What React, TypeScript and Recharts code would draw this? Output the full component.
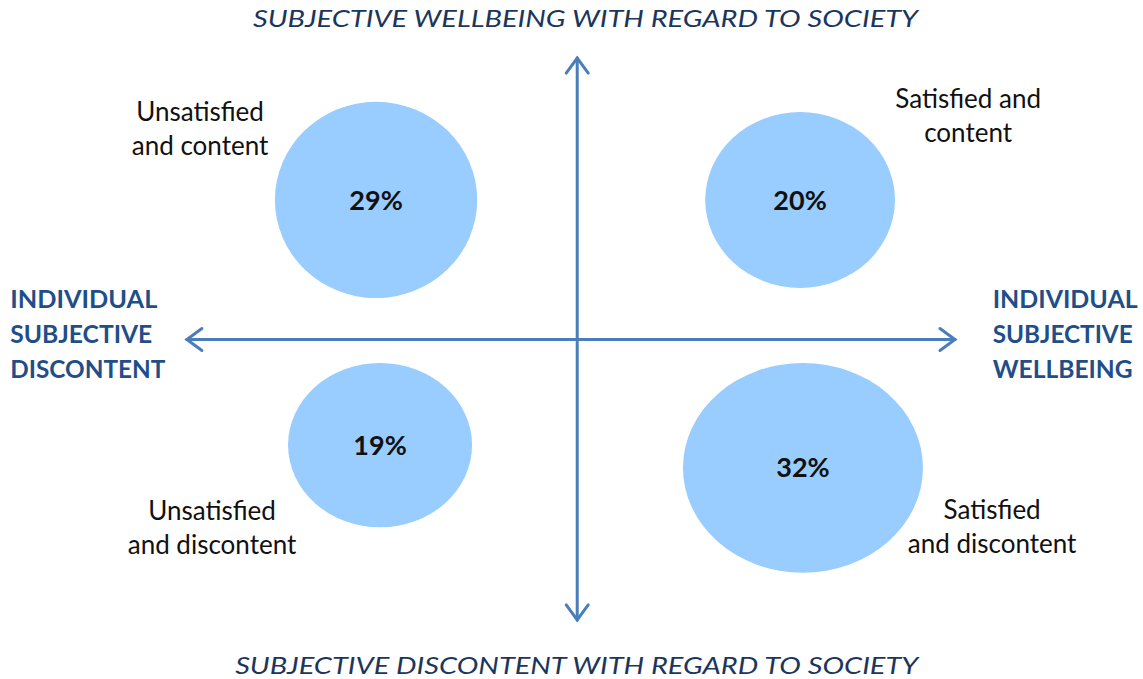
import {
  ScatterChart,
  Scatter,
  XAxis,
  YAxis,
  ReferenceArea,
  ReferenceLine,
} from "recharts";

// quadrant bubbles (diagram units: x -10..10, y -10..10, axes cross at 0,0)
const quadrants = [
  "Unsatisfied and content",
  "Satisfied and content",
  "Unsatisfied and discontent",
  "Satisfied and discontent",
];
const shares = [29, 20, 19, 32];
const bubbleX = [-3.52, 3.9, -3.45, 3.95];
const bubbleY = [4.11, 4.11, -3.11, -3.78];
const bubbleRx = [1.77, 1.66, 1.61, 2.1];
const bubbleRy = [2.89, 2.59, 2.42, 3.09];

// quadrant captions
const captionLines = [
  ["Unsatisfied", "and content"],
  ["Satisfied and", "content"],
  ["Unsatisfied", "and discontent"],
  ["Satisfied", "and discontent"],
];
const captionX = [-6.6, 6.84, -6.39, 7.26];
const captionY = [6.23, 6.6, -5.51, -5.49];

// axis titles
const verticalTitles = [
  "SUBJECTIVE WELLBEING WITH REGARD TO SOCIETY",
  "SUBJECTIVE DISCONTENT WITH REGARD TO SOCIETY",
];
const verticalTitleX = [0.145, -0.01];
const verticalTitleY = [9.47, -9.56];

const leftTitle = ["INDIVIDUAL", "SUBJECTIVE", "DISCONTENT"];
const rightTitle = ["INDIVIDUAL", "SUBJECTIVE", "WELLBEING"];
const sideTitleX = [-9.92, 7.27];
const sideTitleY = [0.19, 0.19];

// arrow extents
const vArrow = [8.29, -8.26];
const hArrow = [-6.83, 6.61];

const W = 1143;
const H = 679;
const ARROW = "#4a7ebb";
const FONT = "Lato, 'Noto Sans', sans-serif";

// fitted text widths (px)
const fitWidth: Record<string, number> = {
  "SUBJECTIVE WELLBEING WITH REGARD TO SOCIETY": 665,
  "SUBJECTIVE DISCONTENT WITH REGARD TO SOCIETY": 683,
};
const sideWidths = [
  [147, 142, 155],
  [145, 140, 140],
];

const captionData = captionLines.map((lines, i) => ({
  x: captionX[i],
  y: captionY[i],
  lines,
}));
const titleData = verticalTitles.map((t, i) => ({
  x: verticalTitleX[i],
  y: verticalTitleY[i],
  lines: [t],
}));
const sideData = [leftTitle, rightTitle].map((lines, i) => ({
  x: sideTitleX[i],
  y: sideTitleY[i],
  lines,
  side: i,
}));

function Bubble(props: any) {
  const { x, y, width, height } = props;
  return (
    <ellipse
      cx={x + width / 2}
      cy={y + height / 2}
      rx={width / 2}
      ry={height / 2}
      fill="#99ccff"
    />
  );
}

function Arrow(props: any) {
  const { x1, y1, x2, y2 } = props;
  const len = Math.hypot(x2 - x1, y2 - y1) || 1;
  const ux = (x2 - x1) / len;
  const uy = (y2 - y1) / len;
  const head = (tx: number, ty: number, dx: number, dy: number) => {
    const bx = tx - dx * 15;
    const by = ty - dy * 15;
    return `M${bx - dy * 11},${by + dx * 11} L${tx},${ty} L${bx + dy * 11},${by - dx * 11}`;
  };
  return (
    <g stroke={ARROW} strokeWidth={3} fill="none" strokeLinecap="round">
      <line x1={x1} y1={y1} x2={x2} y2={y2} />
      <path d={head(x2, y2, ux, uy)} />
      <path d={head(x1, y1, -ux, -uy)} />
    </g>
  );
}

function Caption(props: any) {
  const { cx, cy, payload } = props;
  const gap = 34;
  const n = payload.lines.length;
  return (
    <g>
      {payload.lines.map((l: string, i: number) => (
        <text
          key={i}
          x={cx}
          y={cy + (i - (n - 1) / 2) * gap}
          textAnchor="middle"
          dominantBaseline="central"
          fontFamily={FONT}
          fontSize={26}
          fill="#111"
        >
          {l}
        </text>
      ))}
    </g>
  );
}

function Title(props: any) {
  const { cx, cy, payload } = props;
  const t = payload.lines[0];
  return (
    <text
      x={cx}
      y={cy}
      textAnchor="middle"
      dominantBaseline="central"
      fontFamily={FONT}
      fontStyle="italic"
      fontSize={24}
      fill="#1b365d"
      textLength={fitWidth[t]}
      lengthAdjust="spacingAndGlyphs"
    >
      {t}
    </text>
  );
}

function SideTitle(props: any) {
  const { cx, cy, payload } = props;
  const gap = 35;
  return (
    <g>
      {payload.lines.map((l: string, i: number) => (
        <text
          key={i}
          x={cx}
          y={cy + (i - 1) * gap}
          textAnchor="start"
          dominantBaseline="central"
          fontFamily={FONT}
          fontWeight={700}
          fontSize={25}
          fill="#1f4e89"
          textLength={sideWidths[payload.side][i]}
          lengthAdjust="spacingAndGlyphs"
        >
          {l}
        </text>
      ))}
    </g>
  );
}

export default function App() {
  return (
    <div style={{ position: "absolute", left: 0, top: 0, background: "#fff" }}>
      <ScatterChart
        width={W}
        height={H}
        margin={{ top: 0, right: 0, bottom: 0, left: 0 }}
      >
        <XAxis type="number" dataKey="x" domain={[-10.1, 9.9]} hide />
        <YAxis type="number" dataKey="y" domain={[-10, 10]} hide />

        {quadrants.map((q, i) => (
          <ReferenceArea
            key={q}
            x1={bubbleX[i] - bubbleRx[i]}
            x2={bubbleX[i] + bubbleRx[i]}
            y1={bubbleY[i] - bubbleRy[i]}
            y2={bubbleY[i] + bubbleRy[i]}
            shape={Bubble}
            label={{
              value: `${shares[i]}%`,
              position: "center",
              fontSize: 27,
              fontWeight: 700,
              fill: "#111",
              fontFamily: FONT,
            }}
          />
        ))}

        <ReferenceLine
          segment={[
            { x: 0, y: vArrow[0] },
            { x: 0, y: vArrow[1] },
          ]}
          shape={Arrow}
        />
        <ReferenceLine
          segment={[
            { x: hArrow[0], y: 0 },
            { x: hArrow[1], y: 0 },
          ]}
          shape={Arrow}
        />

        <Scatter data={captionData} shape={Caption} isAnimationActive={false} />
        <Scatter data={titleData} shape={Title} isAnimationActive={false} />
        <Scatter data={sideData} shape={SideTitle} isAnimationActive={false} />
      </ScatterChart>
    </div>
  );
}
